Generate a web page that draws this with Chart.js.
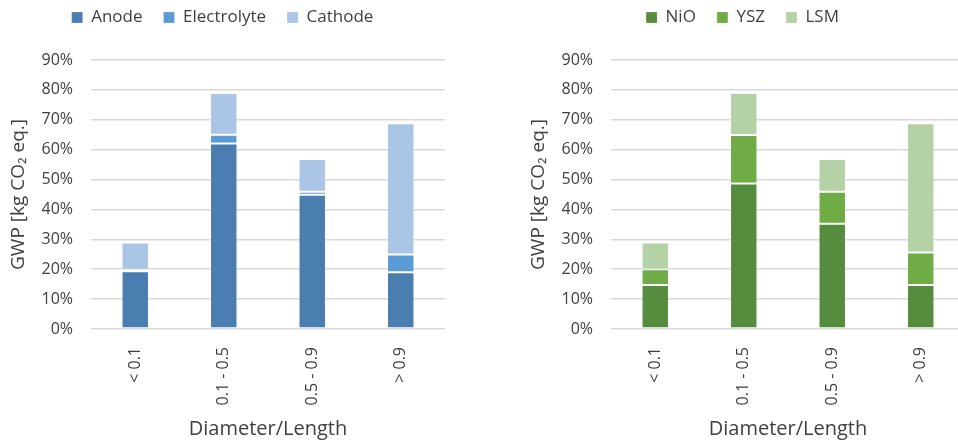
<!DOCTYPE html>
<html>
<head>
    <meta charset="utf-8">
    <title>GWP by diameter/length</title>
    <script src="https://cdn.jsdelivr.net/npm/chart.js"></script>
    <style>
      html, body { margin: 0; padding: 0; background: #fff; overflow: hidden; }
      #wrap { position: relative; width: 958px; height: 441px; overflow: hidden; }
      .box { position: absolute; top: 0; width: 470px; height: 441px; }
    </style>
</head>
<body>
<div id="wrap">
    <div class="box" style="left:0"><canvas id="layerChart"></canvas></div>
    <div class="box" style="left:520px"><canvas id="materialChart"></canvas></div>
</div>

<script>
    // categories (Diameter/Length)
    const categories = ['< 0.1', '0.1 - 0.5', '0.5 - 0.9', '> 0.9'];
    const yTicks = [0, 10, 20, 30, 40, 50, 60, 70, 80, 90];

    // left chart: per cell layer (% of GWP)
    const anode       = [19.3, 62.1, 44.9, 19.0];
    const electrolyte = [0.5, 2.9, 1.0, 5.9];
    const cathode     = [9.1, 14.0, 11.0, 43.9];

    // right chart: per material
    const nio = [14.7, 48.7, 35.2, 14.7];
    const ysz = [5.3, 16.2, 10.7, 10.9];
    const lsm = [8.9, 14.1, 11.0, 43.2];

    const FONT = '"Open Sans", Lato, sans-serif';
    const TEXT = '#404040';
    const GRID = '#d9d9d9';

    // keep the legend block a fixed height so both plots line up
    const legendHeight = {
      id: 'legendHeight',
      beforeInit(chart) {
        const fit = chart.legend.fit;
        chart.legend.fit = function () {
          fit.bind(chart.legend)();
          this.height = 72;
        };
      }
    };

    function ds(label, data, color) {
      return {
        label: label,
        data: data,
        backgroundColor: color,
        borderColor: 'rgba(255,255,255,0.2)',
        borderWidth: 1,
        borderSkipped: false,
        barPercentage: 0.31,
        categoryPercentage: 1.0
      };
    }

    function makeChart(id, datasets) {
      return new Chart(document.getElementById(id), {
        type: 'bar',
        data: { labels: categories, datasets: datasets },
        plugins: [legendHeight],
        options: {
          responsive: true,
          maintainAspectRatio: false,
          animation: false,
          layout: { padding: { left: 0, right: 25, top: -12, bottom: 0 } },
          plugins: {
            legend: {
              position: 'top',
              labels: {
                boxWidth: 11, boxHeight: 11,
                padding: 21,
                color: TEXT,
                font: { family: FONT, size: 17 }
              }
            },
            tooltip: { enabled: false }
          },
          scales: {
            x: {
              stacked: true,
              grid: { display: false },
              border: { display: false },
              ticks: {
                minRotation: 90, maxRotation: 90,
                padding: 10,
                color: TEXT,
                font: { family: FONT, size: 16 }
              },
              title: {
                display: true,
                text: 'Diameter/Length',
                color: TEXT,
                font: { family: FONT, size: 20 },
                padding: { top: 4, bottom: 0 }
              },
              afterFit: s => { s.height = 112; }
            },
            y: {
              stacked: true,
              min: 0, max: 90,
              afterBuildTicks: s => { s.ticks = yTicks.map(v => ({ value: v })); },
              grid: { color: GRID, lineWidth: 1.5, drawTicks: false },
              border: { display: false },
              ticks: {
                padding: 18,
                color: TEXT,
                font: { family: FONT, size: 16 },
                callback: v => v + '%'
              },
              title: {
                display: true,
                text: 'GWP [kg CO\u2082 eq.]',
                color: TEXT,
                font: { family: FONT, size: 19 },
                padding: { top: 7, bottom: 0 }
              },
              afterFit: s => { s.width = 91; }
            }
          }
        }
      });
    }

    makeChart('layerChart', [
      ds('Anode', anode, '#4a7eb1'),
      ds('Electrolyte', electrolyte, '#5b9bd5'),
      ds('Cathode', cathode, '#abc5e6')
    ]);

    makeChart('materialChart', [
      ds('NiO', nio, '#568c3d'),
      ds('YSZ', ysz, '#6fac46'),
      ds('LSM', lsm, '#b4d2a6')
    ]);
</script>
</body>
</html>
